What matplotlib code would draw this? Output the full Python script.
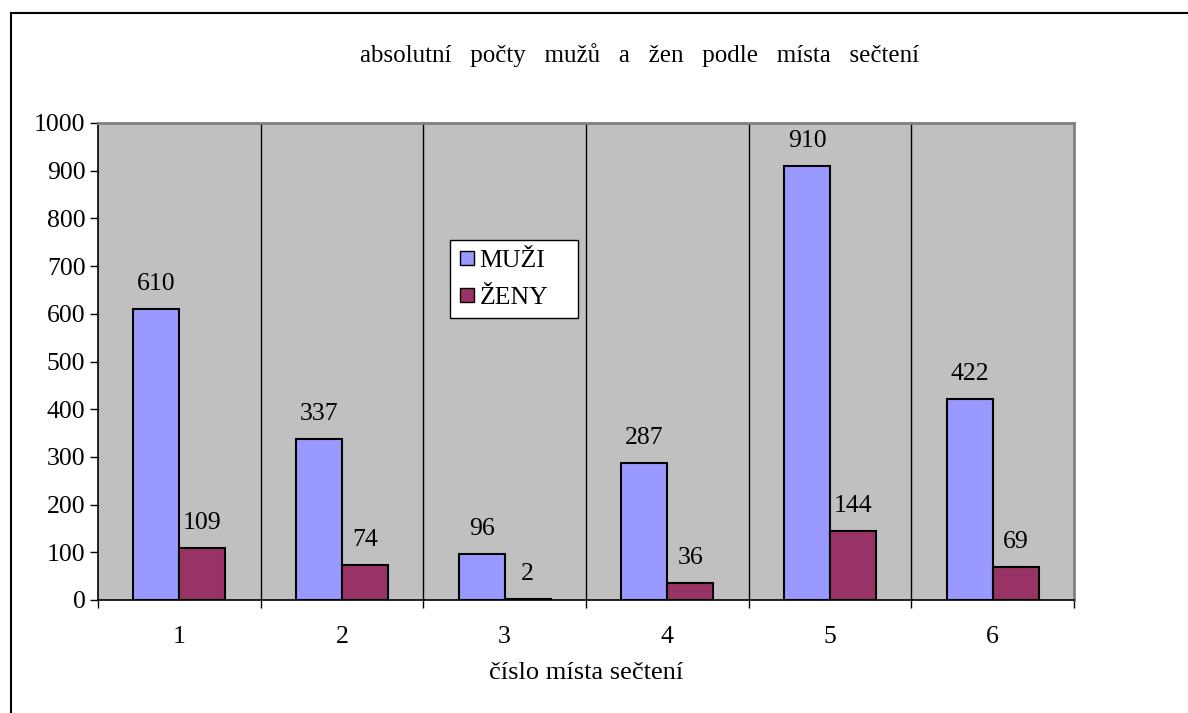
import matplotlib
matplotlib.use("Agg")
import matplotlib.pyplot as plt
import numpy as np
from matplotlib.lines import Line2D

categories = ["1", "2", "3", "4", "5", "6"]
muzi = [610, 337, 96, 287, 910, 422]
zeny = [109, 74, 2, 36, 144, 69]
title = "absolutní   počty   mužů   a   žen   podle   místa   sečtení"
xlabel = "číslo místa sečtení"

plt.rcParams['font.family'] = ['Liberation Serif', 'DejaVu Serif']
FS = 18.5

fig = plt.figure(figsize=(11.88, 7.13), dpi=100)
ax = fig.add_axes([98/1188, 1-600/713, (1074-98)/1188, (600-123)/713])
ax.set_facecolor("#C0C0C0")

x = np.arange(len(categories))
w = 0.283
b1 = ax.bar(x - w/2, muzi, w, color="#9999FF", edgecolor="black", linewidth=1.5, label="MUŽI", zorder=3)
b2 = ax.bar(x + w/2, zeny, w, color="#993366", edgecolor="black", linewidth=1.5, label="ŽENY", zorder=3)

for rect, v in list(zip(b1, muzi)) + list(zip(b2, zeny)):
    ax.annotate(str(v), (rect.get_x() + rect.get_width()/2, v), xytext=(0, 10),
                textcoords="offset points", ha="center", va="bottom", fontsize=FS)

ax.set_xlim(-0.5, len(categories) - 0.5)
ax.set_ylim(0, 1000)
ax.set_yticks(range(0, 1001, 100))
ax.set_xticks(x)
ax.set_xticklabels(categories, fontsize=FS)
ax.tick_params(axis='x', length=0, pad=19)
ax.set_xticks(np.arange(-0.5, len(categories), 1), minor=True)
ax.tick_params(axis='x', which='minor', length=6, width=1, direction='out')
ax.tick_params(axis='y', length=6, width=1, direction='out', labelsize=FS, pad=3)
for b in np.arange(0.5, len(categories) - 0.5, 1):
    ax.axvline(b, color="black", linewidth=1, zorder=2)

for s in ["top", "right"]:
    ax.spines[s].set_color("#808080")
    ax.spines[s].set_linewidth(2)
ax.spines["left"].set_color("black")
ax.spines["bottom"].set_color("black")
ax.spines["left"].set_linewidth(1.2)
ax.spines["bottom"].set_linewidth(1.2)

ax.set_xlabel(xlabel, fontsize=19, labelpad=10)

fig.text(640/1188, 1-55/713, title, ha="center", va="center", fontsize=18)

handles = [Line2D([], [], marker='s', linestyle='none', markerfacecolor="#9999FF", markeredgecolor="black", markersize=10),
           Line2D([], [], marker='s', linestyle='none', markerfacecolor="#993366", markeredgecolor="black", markersize=10)]
leg = ax.legend(handles, ["MUŽI", "ŽENY"], loc="upper left",
                bbox_to_anchor=((450-98)/976, (600-318)/477, 128/976, 78/477), mode="expand",
                fontsize=FS, frameon=True, fancybox=False, framealpha=1, edgecolor="black",
                handlelength=0.6, handletextpad=0.2, borderpad=0.35, labelspacing=0.55, borderaxespad=0)
leg.get_frame().set_linewidth(1)

# outer border (left and top only visible)
fig.add_artist(Line2D([11/1188, 11/1188], [0, 1-13/713], transform=fig.transFigure, color="black", linewidth=1.5))
fig.add_artist(Line2D([11/1188, 1], [1-13/713, 1-13/713], transform=fig.transFigure, color="black", linewidth=1.5))

fig.savefig("out.png", dpi=100)
